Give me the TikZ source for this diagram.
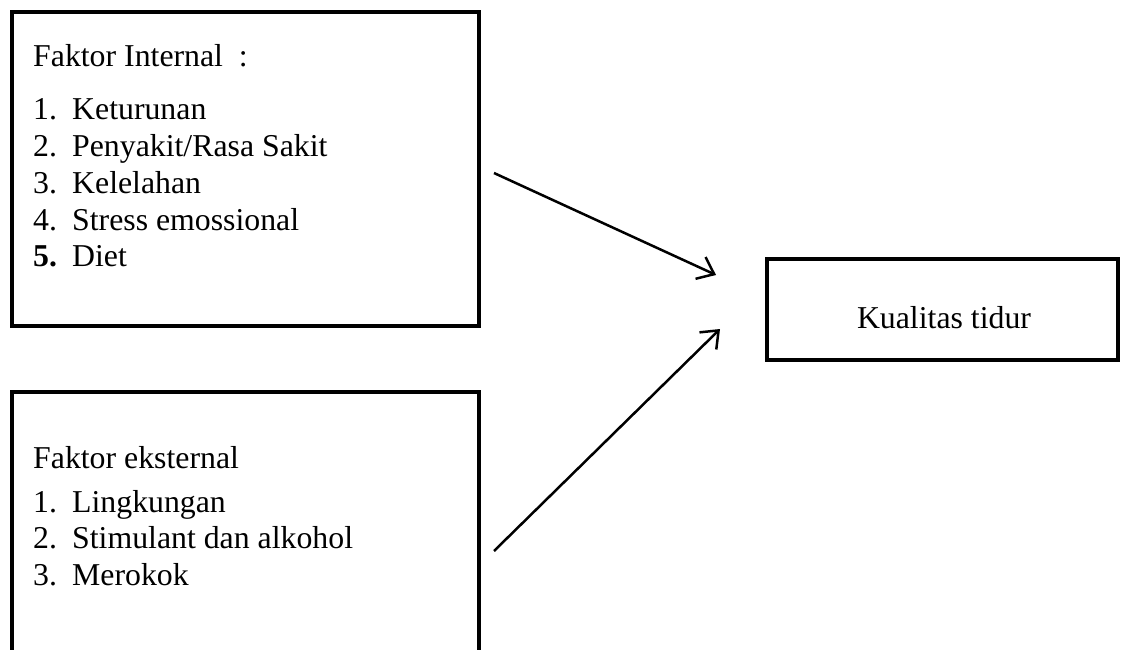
\documentclass[tikz,border=0pt]{standalone}
\usepackage{fontspec}
\setmainfont{Liberation Serif}
\usetikzlibrary{arrows.meta}
\tikzset{
  frame/.style={draw=black, line width=4.5pt, inner sep=0pt},
  txt/.style={anchor=base west, inner sep=0pt, font=\fontsize{31.8}{36.6}\selectfont},
  ctxt/.style={anchor=base, inner sep=0pt, font=\fontsize{31.8}{36.6}\selectfont},
  conn/.style={draw=black, line width=2.5pt, -{Straight Barb[length=15pt,width=24pt,line width=2.5pt]}}
}
\newcommand{\numlbl}[1]{\makebox[39pt][l]{#1}}
\begin{document}
\begin{tikzpicture}[x=1pt,y=-1pt]
\clip (0,0) rectangle (1121,650);
\fill[white] (0,0) rectangle (1121,650);
% boxes
\node[frame, minimum width=467pt, minimum height=314pt] (internal) at (245.5,169) {};
\node[frame, minimum width=467pt, minimum height=320pt] (eksternal) at (245.5,552) {};
\node[frame, minimum width=351pt, minimum height=101pt] (kualitas) at (942.5,309.5) {};
% internal texts
\node[txt] (ihead) at (33,67) {Faktor Internal\ \ :};
\node[txt] (i1) at (33,120) {\numlbl{1.}Keturunan};
\node[txt] (i2) at (33,156.7) {\numlbl{2.}Penyakit/Rasa Sakit};
\node[txt] (i3) at (33,193.3) {\numlbl{3.}Kelelahan};
\node[txt] (i4) at (33,230) {\numlbl{4.}Stress emossional};
\node[txt] (i5) at (33,266.7) {\numlbl{\textbf{5.}}Diet};
% eksternal texts
\node[txt] (ehead) at (33,468) {Faktor eksternal};
\node[txt] (e1) at (33,512) {\numlbl{1.}Lingkungan};
\node[txt] (e2) at (33,548.5) {\numlbl{2.}Stimulant dan alkohol};
\node[txt] (e3) at (33,585) {\numlbl{3.}Merokok};
% kualitas text
\node[ctxt] (ktext) at (944,328) {Kualitas tidur};
% arrows
\coordinate (a1s) at (494,173);
\coordinate (a1e) at (716,275);
\coordinate (a2s) at (494,551);
\coordinate (a2e) at (720,329);
\draw[conn] (a1s) -- (a1e);
\draw[conn] (a2s) -- (a2e);
\end{tikzpicture}
\end{document}
